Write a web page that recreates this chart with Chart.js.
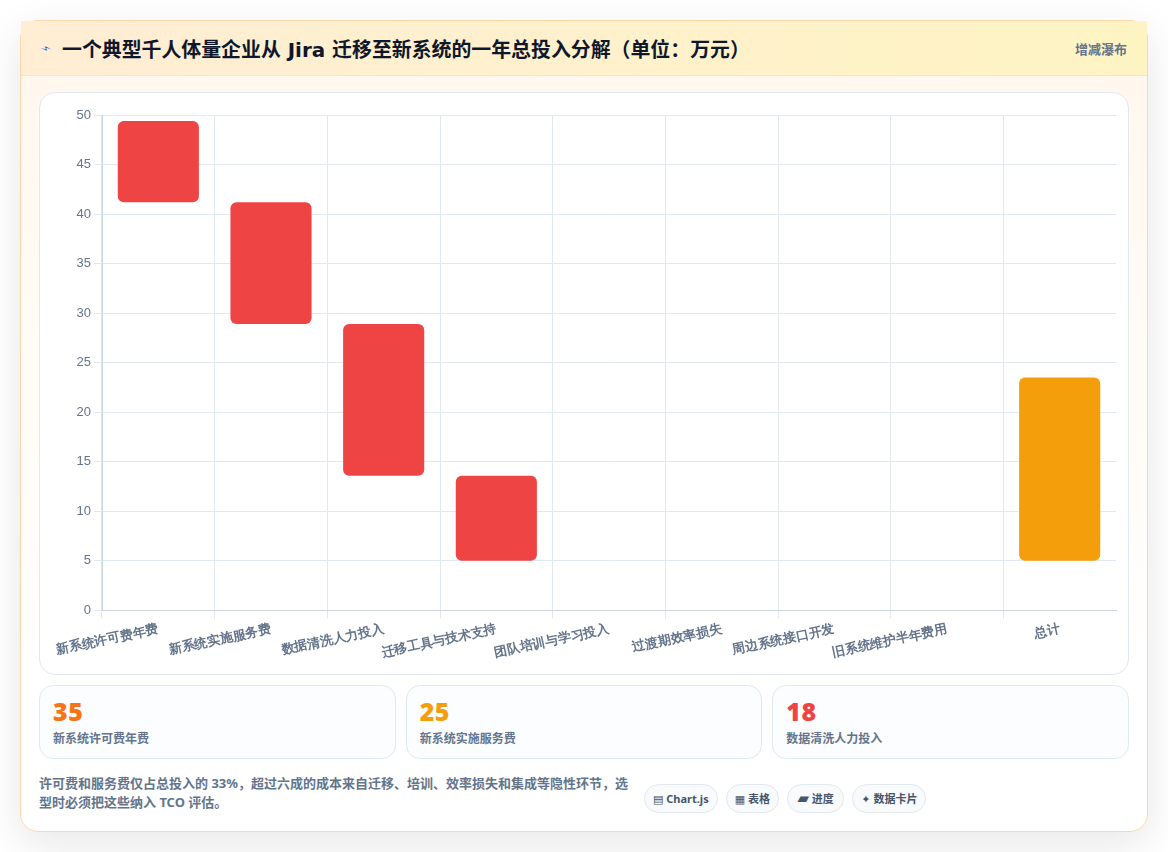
<!DOCTYPE html>
<html lang="zh">
<head>
<meta charset="utf-8">
<title>Jira 迁移总投入分解</title>
<script src="https://cdn.jsdelivr.net/npm/chart.js@4"></script>
<style>
  * { box-sizing: border-box; }
  html, body { margin: 0; height: 100%; background: #fff; overflow: hidden; }
  body { font-family: "DejaVu Sans", "Noto Sans CJK SC", sans-serif; color: #475569; }
  .card { position: absolute; left: 20px; top: 20px; width: 1128px; height: 812px; border: 1px solid #fed7aa; border-radius: 18px;
    background: linear-gradient(180deg, #fff7ed 0%, #ffffff 82%); box-shadow: 0 12px 40px rgba(15,23,42,.1); }
  .head { position: relative; height: 55px; display: flex; align-items: center; justify-content: space-between; padding: 0 20px 0 41px; border-bottom: 1px solid #e2e8f0;
    background: linear-gradient(90deg, #ffedd5, #fef4c3); }
  .head em { position: absolute; left: 20px; top: 20px; font-style: normal; font-size: 11px; line-height: 16px; color: #2563eb; transform: rotate(60deg); }
  .head h1 { margin: 0; font-size: 19.9px; font-weight: 700; color: #0f172a; }
  .head span { font-size: 13px; font-weight: 600; color: #64748b; }
  .plot { position: absolute; left: 18px; top: 71px; width: 1090px; height: 583px; background: #fff; border: 1px solid #e2e8f0; border-radius: 16px; }
  .plot canvas { position: absolute; left: 0; top: 0; }
  .stats { position: absolute; left: 18px; top: 664px; width: 1090px; display: grid; grid-template-columns: repeat(3, 1fr); gap: 10px; }
  .stat { height: 74px; padding: 11px 13px; background: #fbfdff; border: 1px solid #e0e9f6; border-radius: 14px; }
  .stat b { display: block; font-family: "Noto Sans", sans-serif; font-size: 25px; font-weight: 900; line-height: 28px; letter-spacing: .5px; }
  .stat i { display: block; margin-top: 4px; font-style: normal; font-size: 12px; font-weight: 600; line-height: 20px; color: #64748b; }
  .note { position: absolute; left: 18px; top: 753px; width: 596px; font-family: "Noto Sans", "Noto Sans CJK SC", sans-serif; font-size: 13px; font-weight: 700; line-height: 19px; color: #64748b; }
  .tags { position: absolute; left: 623px; top: 763px; display: flex; gap: 8px; font-family: "Noto Sans", "Noto Sans CJK SC", sans-serif; }
  .tags span { height: 29px; line-height: 27px; padding: 0 8px; font-size: 11px; font-weight: 700; color: #475569; background: #f8fafc; border: 1px solid #e2e8f0; border-radius: 15px; white-space: nowrap; }
  .tags u { font-family: "DejaVu Sans", sans-serif; text-decoration: none; }
</style>
</head>
<body>
<div class="card">
  <div class="head">
    <em>⚡</em>
    <h1>一个典型千人体量企业从 Jira 迁移至新系统的一年总投入分解（单位：万元）</h1>
    <span>增减瀑布</span>
  </div>
  <div class="plot"><canvas id="chart"></canvas></div>
  <div class="stats">
    <div class="stat"><b style="color:#f97316">35</b><i>新系统许可费年费</i></div>
    <div class="stat"><b style="color:#f59e0b">25</b><i>新系统实施服务费</i></div>
    <div class="stat"><b style="color:#ef4444">18</b><i>数据清洗人力投入</i></div>
  </div>
  <div class="note">许可费和服务费仅占总投入的 33%，超过六成的成本来自迁移、培训、效率损失和集成等隐性环节，选型时必须把这些纳入 TCO 评估。</div>
  <div class="tags">
    <span><u>▤</u> Chart.js</span><span><u>▦</u> 表格</span><span style="padding:0 9.5px"><u style="font-size:15px">▰</u> 进度</span><span><u>✦</u> 数据卡片</span>
  </div>
</div>
<script>
const categories = ["新系统许可费年费", "新系统实施服务费", "数据清洗人力投入", "迁移工具与技术支持", "团队培训与学习投入", "过渡期效率损失", "周边系统接口开发", "旧系统维护半年费用", "总计"];
const barLows = [41.2, 28.9, 13.6, 5, null, null, null, null, 5];
const barHighs = [49.4, 41.2, 28.9, 13.6, null, null, null, null, 23.5];
const barColors = ["#ef4444", "#ef4444", "#ef4444", "#ef4444", "#ef4444", "#ef4444", "#ef4444", "#ef4444", "#f59e0b"];

const canvas = document.getElementById("chart");
canvas.width = 1088;
canvas.height = 581;

new Chart(canvas, {
  type: "bar",
  data: {
    labels: categories,
    datasets: [{
      data: barLows.map((low, i) => low === null ? null : [low, barHighs[i]]),
      backgroundColor: barColors,
      borderRadius: 6,
      borderSkipped: false
    }]
  },
  options: {
    responsive: false,
    animation: false,
    layout: { padding: { left: 34, right: 12, top: 22, bottom: 10 } },
    plugins: { legend: { display: false }, tooltip: { enabled: false } },
    scales: {
      x: {
        // the closing line on the right is not drawn in the original
        grid: { color: ctx => ctx.tick ? "#e2e8f0" : "transparent" },
        border: { color: "#cbd5e1" },
        ticks: { color: "#64748b", font: { size: 13, weight: "bold" }, maxRotation: 12, minRotation: 12, autoSkip: false }
      },
      y: {
        min: 0,
        max: 50,
        afterFit(scale) { scale.width = 28; },
        grid: { color: "#e2e8f0" },
        border: { color: "#cbd5e1" },
        ticks: { stepSize: 5, color: "#64748b", font: { size: 13 } }
      }
    }
  }
});
</script>
</body>
</html>
